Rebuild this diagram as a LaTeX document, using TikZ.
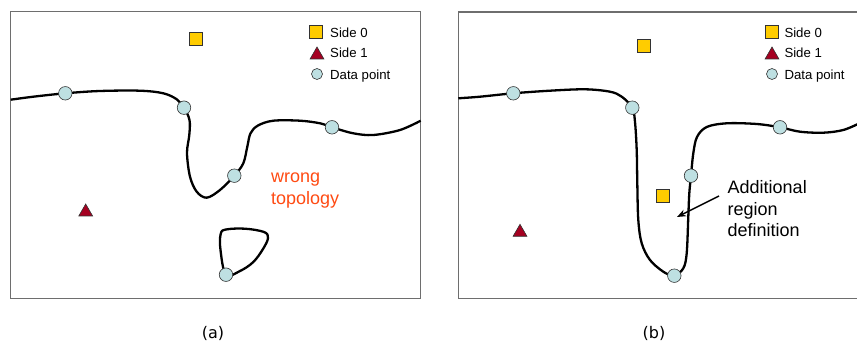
\documentclass[tikz,border=0pt]{standalone}
\usepackage{fontspec}
\setmainfont{Liberation Sans}
\newfontfamily\capfont{DejaVu Sans}
\usetikzlibrary{arrows.meta,shapes.geometric}

\definecolor{sidezero}{HTML}{FFCC00}
\definecolor{sideone}{HTML}{A50021}
\definecolor{datacol}{HTML}{BEE0E2}
\definecolor{wrongcol}{HTML}{FF4A12}
\definecolor{framecol}{HTML}{6E6E6E}

\begin{document}
\begin{tikzpicture}[x=1pt, y=-1pt,
    % jelolok
    side0/.style={draw=black!80, fill=sidezero, line width=0.6pt,
        minimum size=13pt, inner sep=0pt},
    side1/.style={draw=black!80, fill=sideone, regular polygon,
        regular polygon sides=3, minimum size=16pt, inner sep=0pt, line width=0.6pt},
    datapt/.style={circle, draw=black!80, fill=datacol, minimum size=13.5pt,
        inner sep=0pt, line width=0.6pt},
    legpt/.style={datapt, minimum size=11pt},
    boundary/.style={line width=2.3pt, black, line join=round},
    frame/.style={draw=framecol, line width=1.4pt},
    legtext/.style={anchor=base west, inner sep=0pt, font=\fontsize{13.2}{15}\selectfont},
    bigtext/.style={anchor=base west, inner sep=0pt, align=left,
        font=\fontsize{18}{21.5}\selectfont}
]
    \clip (0,0) rectangle (857,344);

    % Keretek
    \draw[frame] (10.7,11.3) rectangle (420.7,298.3);
    \draw[frame] (458.3,12) rectangle (890,298.3);

    % (a) adatpontok
    \coordinate (P1) at (65.3,93.3);
    \coordinate (P2) at (184,107.7);
    \coordinate (P3) at (234.3,175.7);
    \coordinate (P4) at (332,127.3);
    \coordinate (P5) at (226,274.7);

    % (a) hatar
    \draw[boundary] plot[smooth, tension=0.55] coordinates {
        (10.7,99.7) (33.3,96.7) (P1) (100,91) (140,90.7) (163.3,93.3)
        (176.7,99.3) (P2) (189.5,120) (189.3,135) (187,153) (190,176.7)
        (196.7,191.7) (206.7,197.7) (220,190) (P3) (243.3,163.3)
        (247.3,146.7) (250.5,133.3) (258,125.5) (273.3,120.7) (300,120.7)
        (320,123.3) (P4) (353.3,133.3) (373.3,135) (400,130) (420.7,120.7)};
    % rossz topologia: zart hurok
    \draw[boundary] plot[smooth cycle, tension=0.6] coordinates {
        (P5) (220.5,250) (220.7,234) (226,229.5) (245,228.7)
        (264,232) (268,238) (263,249) (253.3,262) (240,271)};

    % (b) adatpontok
    \coordinate (Q1) at (513.3,93.3);
    \coordinate (Q2) at (632.3,107.7);
    \coordinate (Q3) at (674.3,275.7);
    \coordinate (Q4) at (691,175.7);
    \coordinate (Q5) at (780,127.3);

    % (b) hatar
    \draw[boundary] plot[smooth, tension=0.55] coordinates {
        (458.3,98.3) (480,96.7) (Q1) (550,90.7) (585,89.3) (610,91.7)
        (621.7,96.7) (Q2) (635,122) (636.7,150) (637.3,183.3) (638.3,220)
        (641.7,243.3) (650,260) (663.3,271.7) (Q3) (683.3,268.3)
        (686.7,253.3) (688.3,216.7) (689.3,193.3) (Q4) (693.3,153.3)
        (697,137) (706.7,127) (726.7,123.3) (756.7,124) (Q5) (800,131.7)
        (823.3,132.7) (843.3,130) (860,123)};

    % Jelolok (a)
    \foreach \p in {1,...,5} {
        \node[datapt] (da\p) at (P\p) {};
    }
    \node[side0] (sqa) at (195.7,38.7) {};
    \node[side1] (tra) at (85.7,212) {};

    % Jelolok (b)
    \foreach \p in {1,...,5} {
        \node[datapt] (db\p) at (Q\p) {};
    }
    \node[side0] (sqb1) at (643.3,45.7) {};
    \node[side0] (sqb2) at (663,196) {};
    \node[side1] (trb) at (520,232.3) {};

    % Jelmagyarazat
    \node[side0] (legsqa) at (316,31.5) {};
    \node[side1] (legtra) at (317,55) {};
    \node[legpt] (legdpa) at (317,74) {};
    \node[legtext] (legsqta) at (330,37.3) {Side 0};
    \node[legtext] (legtrta) at (330,58) {Side 1};
    \node[legtext] (legdpta) at (330,79.3) {Data point};

    \node[side0] (legsqb) at (771.7,31.5) {};
    \node[side1] (legtrb) at (772,55) {};
    \node[legpt] (legdpb) at (772,74) {};
    \node[legtext] (legsqtb) at (784.3,37.3) {Side 0};
    \node[legtext] (legtrtb) at (784.3,58) {Side 1};
    \node[legtext] (legdptb) at (784.3,79.3) {Data point};

    % Feliratok (base = utolso sor alapvonala)
    \node[bigtext, text=wrongcol] (wrong) at (271,204.5) {wrong\\topology};
    \node[bigtext] (addreg) at (727.5,237) {Additional\\region\\definition};
    \coordinate (A0) at (719,196);
    \coordinate (A1) at (677,217);
    \draw[line width=1.4pt, -{Stealth[length=9pt,width=7pt]}] (A0) -- (A1);

    \node[font=\capfont\fontsize{16}{18}\selectfont] (capa) at (213,333) {(a)};
    \node[font=\capfont\fontsize{16}{18}\selectfont] (capb) at (654,333) {(b)};
\end{tikzpicture}
\end{document}
